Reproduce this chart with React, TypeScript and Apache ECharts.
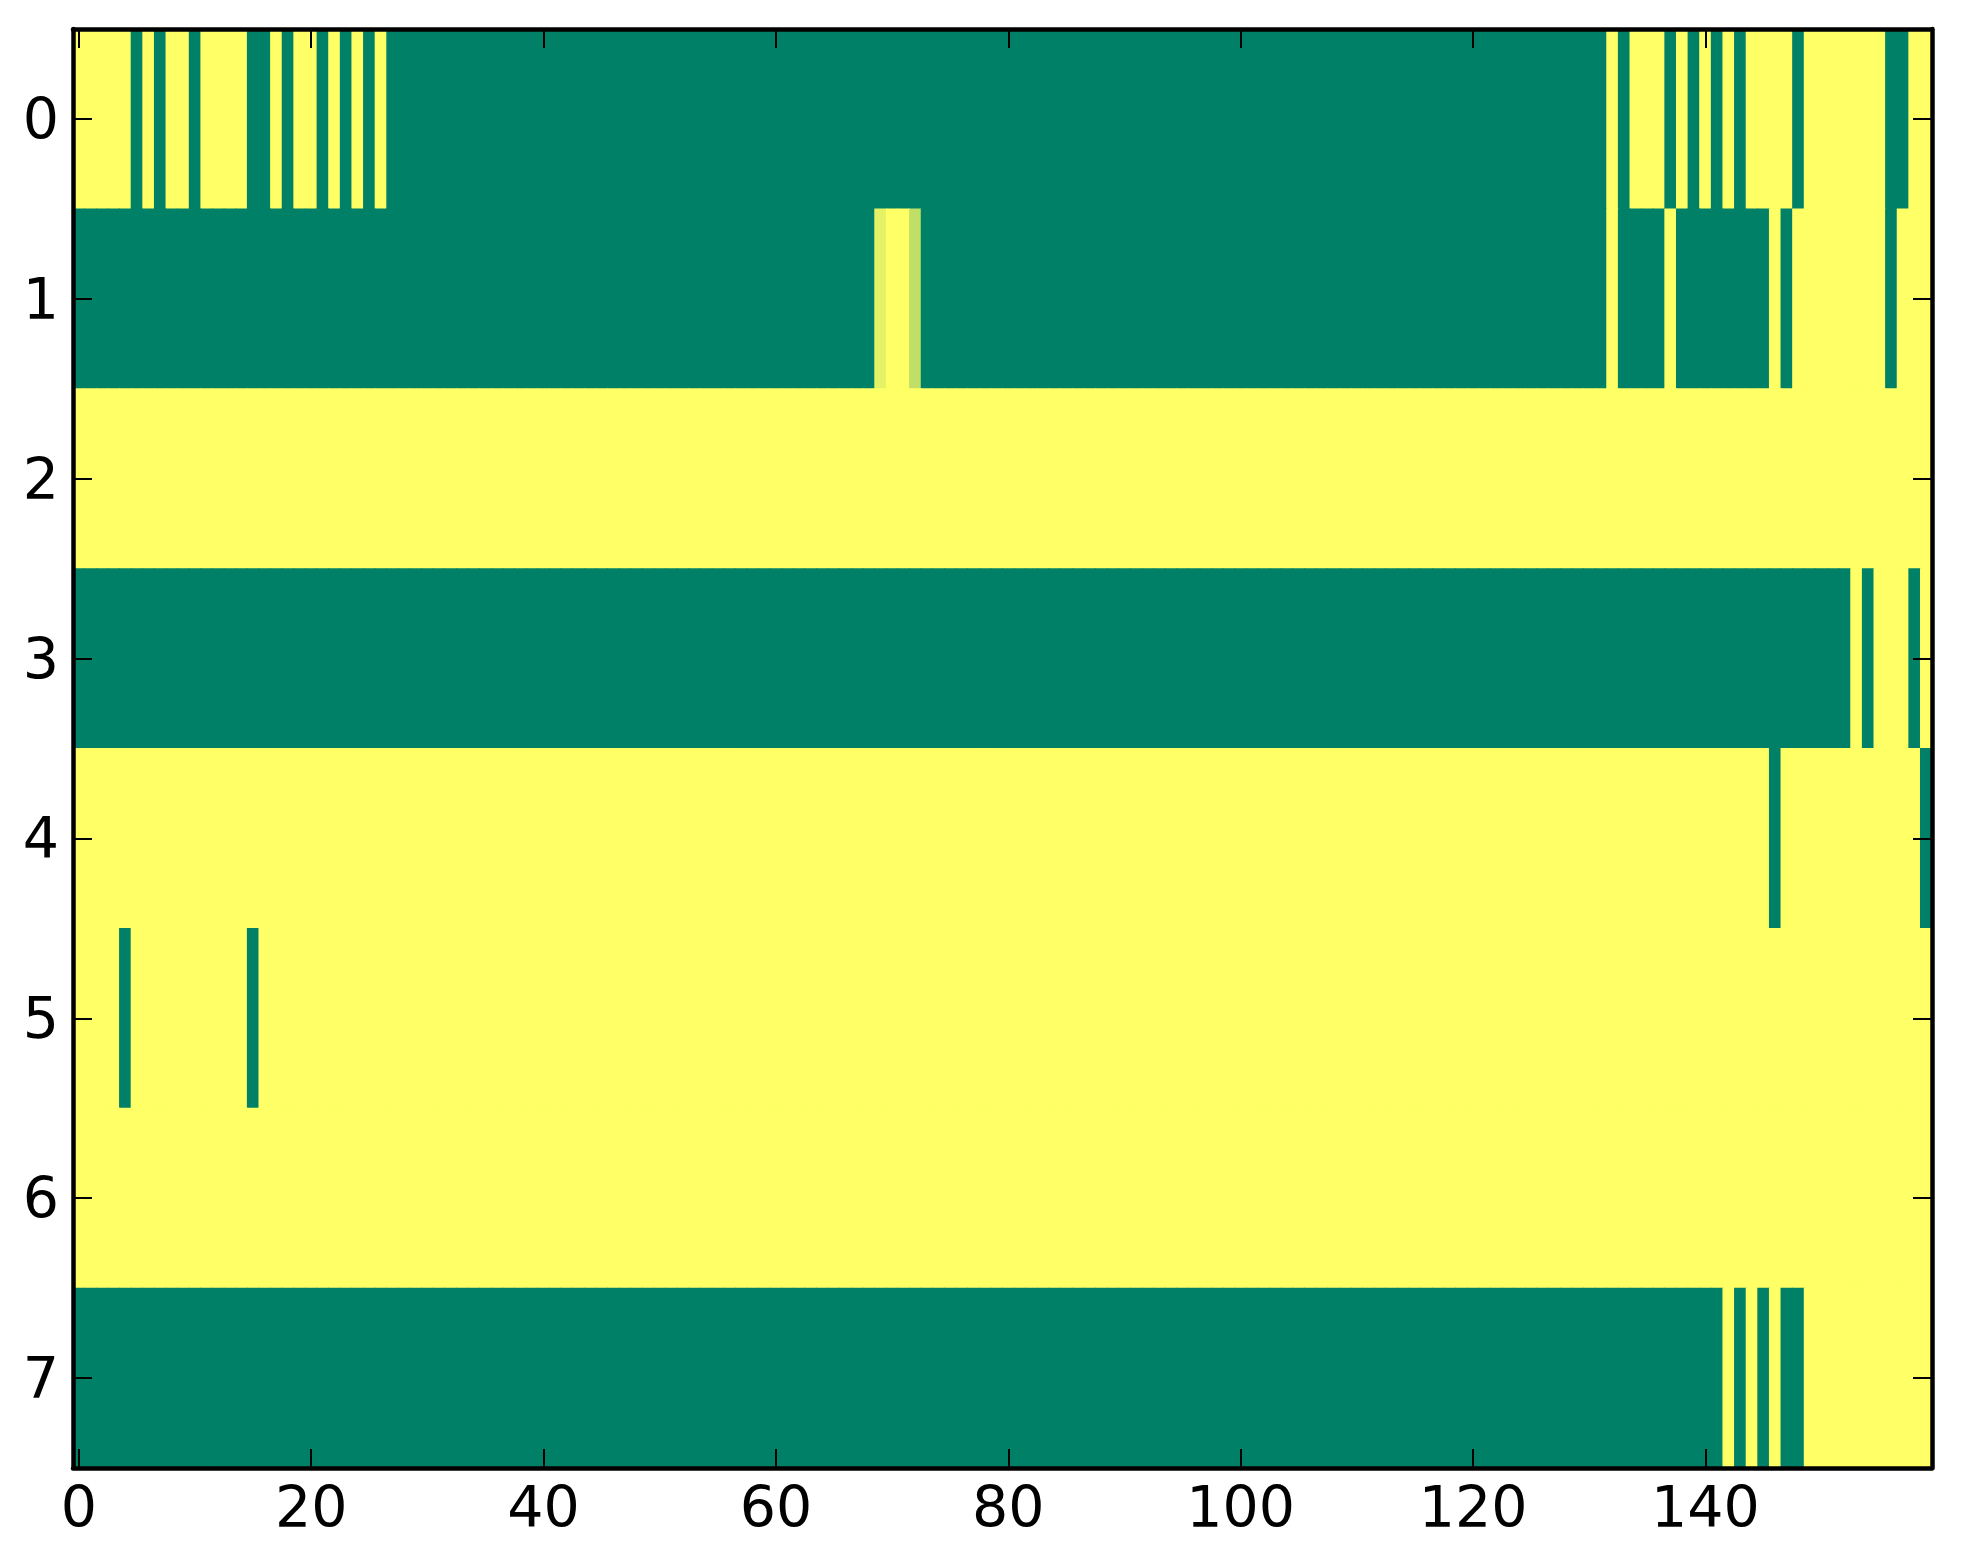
import React, { useEffect, useRef } from "react";
import * as echarts from "echarts";

// columns 0..159, rows 0..7 (top to bottom)
const columns: string[] = Array.from({ length: 160 }, (_, i) => String(i));
const rows: string[] = ["0", "1", "2", "3", "4", "5", "6", "7"];

// each row as runs of [value, count]; 1 = yellow, 0 = green
const row0: number[][] = [
  [1, 5], [0, 1], [1, 1], [0, 1], [1, 2], [0, 1], [1, 4], [0, 2], [1, 1], [0, 1],
  [1, 2], [0, 1], [1, 1], [0, 1], [1, 1], [0, 1], [1, 1], [0, 105], [1, 1], [0, 1],
  [1, 3], [0, 1], [1, 1], [0, 1], [1, 1], [0, 1], [1, 1], [0, 1], [1, 4], [0, 1],
  [1, 7], [0, 2], [1, 2],
];
const row1: number[][] = [
  [0, 69], [0.9, 1], [1, 2], [0.75, 1], [0, 59], [1, 1], [0, 4], [1, 1], [0, 8],
  [1, 1], [0, 1], [1, 8], [0, 1], [1, 3],
];
const row2: number[][] = [[1, 160]];
const row3: number[][] = [[0, 153], [1, 1], [0, 1], [1, 3], [0, 1], [1, 1]];
const row4: number[][] = [[1, 146], [0, 1], [1, 12], [0, 1]];
const row5: number[][] = [[1, 4], [0, 1], [1, 10], [0, 1], [1, 144]];
const row6: number[][] = [[1, 160]];
const row7: number[][] = [
  [0, 142], [1, 1], [0, 1], [1, 1], [0, 1], [1, 1], [0, 2], [1, 11],
];

const allRows = [row0, row1, row2, row3, row4, row5, row6, row7];

const buildCells = () => {
  const cells: number[][] = [];
  allRows.forEach((runs, r) => {
    let c = 0;
    runs.forEach(([v, n]) => {
      for (let k = 0; k < n; k++) {
        cells.push([c, r, v]);
        c++;
      }
    });
  });
  return cells;
};

const FONT = "DejaVu Sans";
const LINE = { color: "#000", width: 4.5 };
const TICK = { color: "#000", width: 2 };

const App: React.FC = () => {
  const chartRef = useRef<HTMLDivElement | null>(null);

  useEffect(() => {
    if (!chartRef.current) return;
    const chart = echarts.init(chartRef.current, undefined, { renderer: "svg" });

    const xTick = (i: number) => i % 20 === 0;
    const labelStyle = { color: "#000", fontSize: 57, fontFamily: FONT };

    const xBase = (position: string, labels: boolean) => ({
      type: "category",
      data: columns,
      position,
      z: 10,
      axisLine: { show: true, lineStyle: LINE },
      axisTick: {
        show: true,
        inside: true,
        length: 19,
        alignWithLabel: true,
        interval: xTick,
        lineStyle: TICK,
      },
      axisLabel: labels
        ? { ...labelStyle, interval: xTick, margin: 10 }
        : { show: false },
      splitLine: { show: false },
    });

    const yBase = (position: string, labels: boolean) => ({
      type: "category",
      data: rows,
      inverse: true,
      position,
      z: 10,
      axisLine: { show: true, lineStyle: LINE },
      axisTick: {
        show: true,
        inside: true,
        length: 19,
        alignWithLabel: true,
        lineStyle: TICK,
      },
      axisLabel: labels ? { ...labelStyle, margin: 14 } : { show: false },
      splitLine: { show: false },
    });

    chart.setOption({
      animation: false,
      grid: { left: 65, right: 23, top: 21, bottom: 88 },
      visualMap: {
        show: false,
        min: 0,
        max: 1,
        dimension: 2,
        inRange: { color: ["#008066", "#ffff66"] },
      },
      xAxis: [xBase("bottom", true), xBase("top", false)],
      yAxis: [yBase("left", true), yBase("right", false)],
      series: [
        {
          type: "custom",
          xAxisIndex: 0,
          yAxisIndex: 0,
          data: buildCells(),
          encode: { x: 0, y: 1 },
          z: 1,
          silent: true,
          renderItem: (params: any, api: any) => {
            const p = api.coord([api.value(0), api.value(1)]);
            const s = api.size([1, 1]);
            // small overlap hides seams between neighbouring cells
            return {
              type: "rect",
              shape: {
                x: p[0] - s[0] / 2 - 0.4,
                y: p[1] - s[1] / 2 - 0.4,
                width: s[0] + 0.8,
                height: s[1] + 0.8,
              },
              style: { fill: api.visual("color") },
            };
          },
        },
      ],
    });

    return () => {
      chart.dispose();
    };
  }, []);

  return (
    <div
      ref={chartRef}
      style={{
        width: "1947px",
        height: "1548px",
      }}
    />
  );
};

export default App;
